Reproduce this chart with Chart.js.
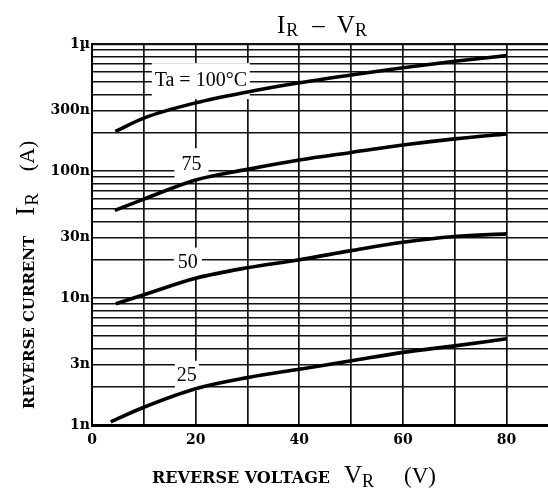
<!DOCTYPE html>
<html><head><meta charset="utf-8">
<script src="https://cdn.jsdelivr.net/npm/chart.js@4.4.1/dist/chart.umd.min.js"></script>
<style>html,body{margin:0;padding:0;background:#fff}#wrap{width:548px;height:491px;position:relative}</style>
</head><body><div id="wrap"><canvas id="c"></canvas></div>
<script>
// ---- data (reverse voltage in V, reverse current in nA) ----
const voltage100 = [4.5, 10, 20, 30, 40, 50, 60, 70, 80];
const current100 = [205, 261, 344, 419, 495, 570, 650, 731, 810];
const voltage75  = [4.4, 10, 20, 30, 40, 50, 60, 70, 80];
const current75  = [49, 60, 85, 103, 122, 140, 160, 179, 196];
const voltage50  = [4.6, 10, 20, 30, 40, 50, 60, 70, 80];
const current50  = [9, 10.6, 14.3, 17.3, 20, 23.6, 27.5, 30.5, 32];
const voltage25  = [3.6, 10, 20, 30, 40, 50, 60, 70, 80];
const current25  = [1.06, 1.38, 1.93, 2.36, 2.75, 3.2, 3.73, 4.2, 4.77];
const seriesNames = ['Ta = 100°C', '75', '50', '25'];
const xTickValues = [0, 10, 20, 30, 40, 50, 60, 70, 80];
const xLabelValues = [0, 20, 40, 60, 80];
const yLabelValues = [1, 3, 10, 30, 100, 300, 1000];
const yLabelTexts = ['1n', '3n', '10n', '30n', '100n', '300n', '1µ'];
const yMantissas = [1, 2, 3, 4, 5, 6, 7, 8, 9];
const yDecades = [1, 10, 100];
const labelAnchorV = [21.0, 19.2, 18.5, 18.3];
const labelAnchorI = [510, 113, 19, 2.44];

// ---- styles ----
const boxHalfW = [49, 17, 14, 12];
const boxHalfH = [18, 16, 15, 15];
const tickFont = {family: 'DejaVu Serif', size: 14, weight: 'bold'};

const pairs = [[voltage100, current100], [voltage75, current75], [voltage50, current50], [voltage25, current25]];
const datasets = pairs.map(([v, c], i) => ({
  label: seriesNames[i],
  data: v.map((vv, k) => ({x: vv, y: c[k]})),
  borderColor: '#000', borderWidth: 3.6, pointRadius: 0, fill: false,
  cubicInterpolationMode: 'monotone', borderCapStyle: 'butt'
}));

const yGrid = [];
yDecades.forEach(d => yMantissas.forEach(m => yGrid.push(m * d)));
yGrid.push(1000);

function drawRun(ctx, parts, x, y) {
  parts.forEach(p => {
    ctx.font = p.font;
    ctx.fillText(p.t, x, y + (p.dy || 0));
    x += ctx.measureText(p.t).width + (p.gap || 0);
  });
}

const annot = {
  id: 'annot',
  beforeDatasetsDraw(chart) {
    const {ctx, scales: {x, y}} = chart;
    ctx.save();
    seriesNames.forEach((t, i) => {
      const cx = x.getPixelForValue(labelAnchorV[i]);
      const cy = y.getPixelForValue(labelAnchorI[i]);
      ctx.fillStyle = '#fff';
      ctx.fillRect(cx - boxHalfW[i], cy - boxHalfH[i], boxHalfW[i] * 2, boxHalfH[i] * 2);
      ctx.fillStyle = '#000';
      ctx.font = '20px "Liberation Serif"';
      ctx.textAlign = 'center';
      ctx.textBaseline = 'middle';
      ctx.fillText(t, cx, cy);
    });
    ctx.restore();
  },
  afterDraw(chart) {
    const ctx = chart.ctx;
    ctx.save();
    ctx.fillStyle = '#000';
    ctx.textAlign = 'left';
    ctx.textBaseline = 'alphabetic';
    // title
    drawRun(ctx, [
      {t: 'I', font: '25px "Liberation Serif"', gap: 1},
      {t: 'R', font: '18px "Liberation Serif"', dy: 3, gap: 14},
      {t: '–', font: '25px "Liberation Serif"', gap: 12},
      {t: 'V', font: '25px "Liberation Serif"', gap: 0},
      {t: 'R', font: '18px "Liberation Serif"', dy: 3}
    ], 277, 33);
    // x title
    drawRun(ctx, [
      {t: 'REVERSE VOLTAGE', font: 'bold 16px "DejaVu Serif"', gap: 14},
      {t: 'V', font: '25px "Liberation Serif"', gap: 0},
      {t: 'R', font: '18px "Liberation Serif"', dy: 4, gap: 30},
      {t: '(V)', font: '23px "Liberation Serif"'}
    ], 152, 483);
    // y title (rotated)
    ctx.translate(34, 409);
    ctx.rotate(-Math.PI / 2);
    drawRun(ctx, [
      {t: 'REVERSE CURRENT', font: 'bold 15px "DejaVu Serif"', gap: 20},
      {t: 'I', font: '27px "Liberation Serif"', gap: 1},
      {t: 'R', font: '19px "Liberation Serif"', dy: 4, gap: 22},
      {t: '(A)', font: '22px "Liberation Serif"'}
    ], 0, 0);
    ctx.restore();
  }
};

new Chart(document.getElementById('c'), {
  type: 'line',
  data: {datasets},
  options: {
    responsive: true, maintainAspectRatio: false, animation: false,
    layout: {padding: {top: 44, left: 0, right: 0, bottom: 0}},
    plugins: {legend: {display: false}, tooltip: {enabled: false}},
    scales: {
      x: {
        type: 'linear', min: 0, max: 88,
        afterBuildTicks: s => { s.ticks = xTickValues.map(v => ({value: v})); },
        afterFit: s => { s.height = 66; },
        ticks: {
          autoSkip: false, maxRotation: 0, color: '#000', padding: 7,
          font: tickFont,
          callback: v => xLabelValues.includes(v) ? String(v) : ''
        },
        grid: {color: '#111', lineWidth: 1.7, drawTicks: false},
        border: {color: '#000', width: 3}
      },
      y: {
        type: 'logarithmic', min: 1, max: 1000,
        afterBuildTicks: s => { s.ticks = yGrid.map(v => ({value: v})); },
        afterFit: s => { s.width = 92; },
        ticks: {
          autoSkip: false, color: '#000', padding: 2,
          font: tickFont,
          callback: v => {
            const i = yLabelValues.findIndex(t => Math.abs(t - v) / t < 1e-6);
            return i >= 0 ? yLabelTexts[i] : '';
          }
        },
        grid: {color: '#111', lineWidth: c => (c.tick && c.tick.value === 1000 ? 2.2 : 1.5), drawTicks: false},
        border: {color: '#000', width: 2}
      }
    }
  },
  plugins: [annot]
});
</script></body></html>
